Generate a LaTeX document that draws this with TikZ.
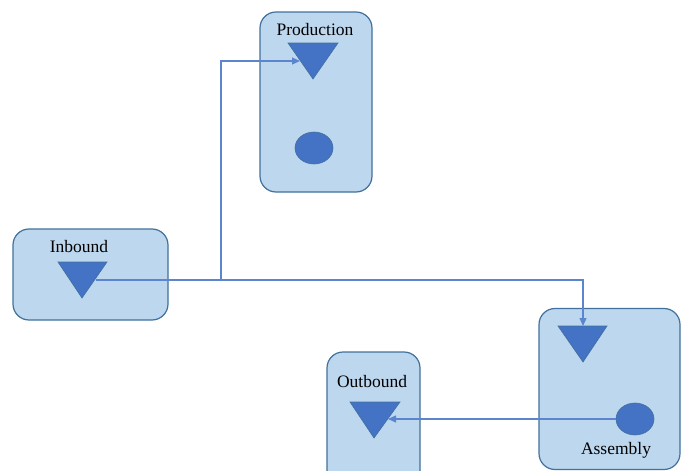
\documentclass[tikz,border=0pt]{standalone}
\usepackage{fontspec}
\setmainfont{Liberation Serif}
\usetikzlibrary{arrows.meta,shapes.geometric}
\definecolor{boxfill}{HTML}{BDD7EE}
\definecolor{boxline}{HTML}{41719C}
\definecolor{mark}{HTML}{4472C4}
\definecolor{link}{HTML}{5B86CF}
\tikzset{
  area/.style={draw=boxline, fill=boxfill, line width=1.2pt, rounded corners=16pt,
    minimum width=#1, inner sep=0pt},
  lbl/.style={font=\fontsize{17.5}{17.5}\selectfont, inner sep=0pt},
  stock/.style={fill=mark, draw=boxline, line width=0.6pt},
  site/.style={ellipse, fill=mark, draw=boxline, line width=0.6pt,
    minimum width=38pt, minimum height=32pt, inner sep=0pt},
  flow/.style={draw=link, line width=1.2pt, -{Triangle[width=7pt,length=8pt]}},
}
\begin{document}
\begin{tikzpicture}[x=1pt, y=-1pt]
\useasboundingbox (0,0) rectangle (681,471);

% areas
\node[area=112pt, minimum height=180pt] (prod) at (316,102) {};
\node[area=155pt, minimum height=91pt] (inb) at (90.5,274.5) {};
\node[area=141pt, minimum height=161pt] (asm) at (609.5,389) {};
\node[area=93pt, minimum height=140pt] (outb) at (373.5,422) {};

% labels
\node[lbl] (prodL) at (315,30) {Production};
\node[lbl] (inbL) at (79,247) {Inbound};
\node[lbl] (asmL) at (616,450) {Assembly};
\node[lbl] (outbL) at (372,382) {Outbound};

% inventory triangles (pointing down)
\draw[stock] (288,43) -- (338,43) -- (313,79) -- cycle;
\draw[stock] (58,262) -- (107,262) -- (82,298) -- cycle;
\draw[stock] (558,326) -- (607,326) -- (583,362) -- cycle;
\draw[stock] (350,402) -- (400,402) -- (374,438) -- cycle;

% process sites
\node[site] (prodS) at (314,148) {};
\node[site] (asmS) at (635,419) {};

% connection points on the triangles
\coordinate (inbT) at (96,280);
\coordinate (prodT) at (300,61);
\coordinate (asmT) at (583,326);
\coordinate (outbT) at (388,419);

% flows
\draw[flow] (inbT) -- (221,280) |- (prodT);
\draw[flow] (inbT) -| (asmT);
\draw[flow] (asmS.west |- outbT) -- (outbT);
\end{tikzpicture}
\end{document}
